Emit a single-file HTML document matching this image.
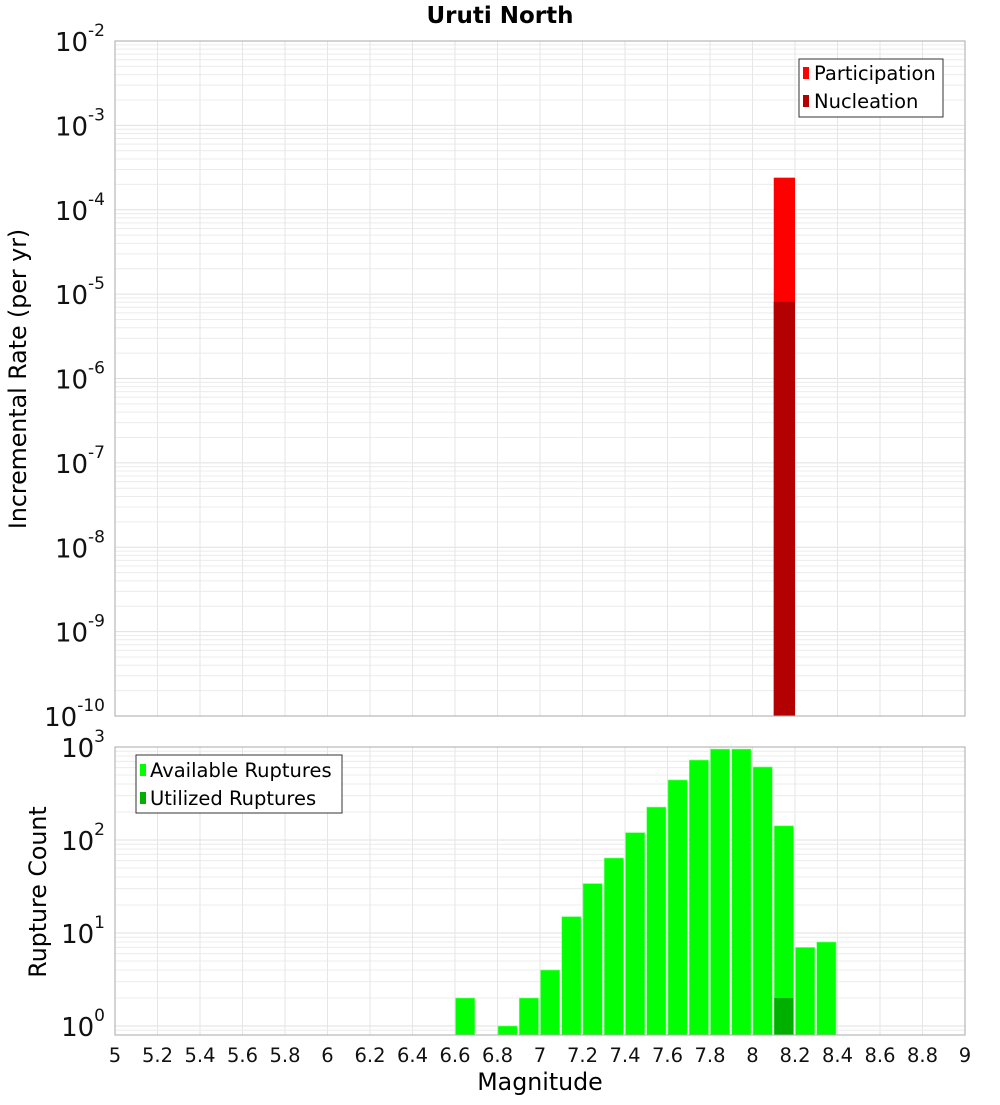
<!DOCTYPE html>
<html><head><meta charset="utf-8"><style>
body{margin:0;background:#fff;font-family:"Liberation Sans","DejaVu Sans",sans-serif;}
svg text{font-family:"DejaVu Sans","Liberation Sans",sans-serif;}
</style></head><body>
<svg id="c" width="1000" height="1100" xmlns="http://www.w3.org/2000/svg">
<text x="500" y="23" text-anchor="middle" font-size="23" font-weight="bold">Uruti North</text>
<text transform="translate(26,379) rotate(-90)" text-anchor="middle" font-size="23.7">Incremental Rate (per yr)</text>
<text transform="translate(46,892) rotate(-90)" text-anchor="middle" font-size="23.7">Rupture Count</text>
<text x="540" y="1090" text-anchor="middle" font-size="23.7">Magnitude</text>
<g id="top"></g><g id="bot"></g>
</svg>
<script>
const magCenters=[8.15];
const participation=[2.4e-4];
const nucleation=[8.1e-6];
const botMags=[6.65,6.85,6.95,7.05,7.15,7.25,7.35,7.45,7.55,7.65,7.75,7.85,7.95,8.05,8.15,8.25,8.35];
const available=[2,1,2,4,15,34,64,120,226,442,724,950,950,610,142,7,8];
const utilizedMags=[8.15];
const utilized=[2];
const xTicks=[5,5.2,5.4,5.6,5.8,6,6.2,6.4,6.6,6.8,7,7.2,7.4,7.6,7.8,8,8.2,8.4,8.6,8.8,9];
const topExps=[-10,-9,-8,-7,-6,-5,-4,-3,-2];
const botExps=[0,1,2,3];

const NS="http://www.w3.org/2000/svg";
const X0=115,X1=965;
const xs=m=>X0+(m-5)/4*(X1-X0);
function mk(p,tag,a){const e=document.createElementNS(NS,tag);for(const k in a)e.setAttribute(k,a[k]);p.appendChild(e);return e;}
function panel(g,top,bot,lmin,lmax){
  const ys=v=>bot-(Math.log10(v)-lmin)/(lmax-lmin)*(bot-top);
  for(let d=Math.floor(lmin);d<lmax;d++)for(let k=1;k<10;k++){const v=k*Math.pow(10,d);const y=ys(v);if(y<top-0.1||y>bot+0.1)continue;
    const l=mk(g,'line',{x1:X0,x2:X1,y1:y,y2:y,stroke:k==1?'#e0e0e0':'#ececec','stroke-width':1});
    
    }
  xTicks.forEach(t=>{const l=mk(g,'line',{x1:xs(t),x2:xs(t),y1:top,y2:bot,stroke:'#e6e6e6','stroke-width':1});
    
    });
  return ys;
}
const T=document.getElementById('top'),B=document.getElementById('bot');
const yt=panel(T,41,716,-10,-2);
const bw=(X1-X0)/40;
magCenters.forEach((m,i)=>{
  const r=mk(T,'rect',{x:xs(m-0.05),y:yt(participation[i]),width:bw,height:716-yt(participation[i]),fill:'#ff0000'});
  
  
  const n=mk(T,'rect',{x:xs(m-0.05),y:yt(nucleation[i]),width:bw,height:716-yt(nucleation[i]),fill:'#b30000'});
  
  
});
mk(T,'rect',{x:X0,y:41,width:X1-X0,height:675,fill:'none',stroke:'#aaa'});
topExps.forEach(e=>{const y=yt(Math.pow(10,e));const t=mk(T,'text',{x:105,y:y+10,'text-anchor':'end','font-size':26,fill:'#111'});
  
  
  t.innerHTML='10<tspan dy="-15" font-size="17">'+e+'</tspan>';});
const lg=mk(T,'g',{});


mk(lg,'rect',{x:799,y:59,width:144,height:58,fill:'#fff',stroke:'#333'});
mk(lg,'rect',{x:803,y:67,width:6,height:12,fill:'#ff0000'});
mk(lg,'text',{x:814,y:80,'font-size':19.5}).textContent='Participation';
mk(lg,'rect',{x:803,y:95,width:6,height:12,fill:'#b30000'});
mk(lg,'text',{x:814,y:108,'font-size':19.5}).textContent='Nucleation';

panel(B,747,1035,Math.log10(0.8),3);
const ybb=v=>1026-Math.log10(v)*93;
botMags.forEach((m,i)=>{
  const r=mk(B,'rect',{x:xs(m-0.05)+0.5,y:ybb(available[i]),width:bw-2,height:1035-ybb(available[i]),fill:'#00ff00',stroke:'#7fff7f','stroke-width':0.6});
  
  });
utilizedMags.forEach((m,i)=>{
  const r=mk(B,'rect',{x:xs(m-0.05)+0.5,y:ybb(utilized[i]),width:bw-2,height:1035-ybb(utilized[i]),fill:'#00b000'});
  
  });
mk(B,'rect',{x:X0,y:747,width:X1-X0,height:288,fill:'none',stroke:'#aaa'});
botExps.forEach(e=>{const y=ybb(Math.pow(10,e));const t=mk(B,'text',{x:105,y:y+10,'text-anchor':'end','font-size':26,fill:'#111'});
  
  
  t.innerHTML='10<tspan dy="-15" font-size="17">'+e+'</tspan>';});
xTicks.forEach(t=>{const x=mk(B,'text',{x:xs(t),y:1062,'text-anchor':'middle','font-size':19.5,fill:'#111'});
  
  
  x.textContent=String(t);});
const lb=mk(B,'g',{});


mk(lb,'rect',{x:136,y:755,width:206,height:58,fill:'#fff',stroke:'#333'});
mk(lb,'rect',{x:140,y:764,width:6,height:12,fill:'#00ff00'});
mk(lb,'text',{x:150,y:777,'font-size':19.5}).textContent='Available Ruptures';
mk(lb,'rect',{x:140,y:792,width:6,height:12,fill:'#00b000'});
mk(lb,'text',{x:150,y:805,'font-size':19.5}).textContent='Utilized Ruptures';
</script>
</body></html>
